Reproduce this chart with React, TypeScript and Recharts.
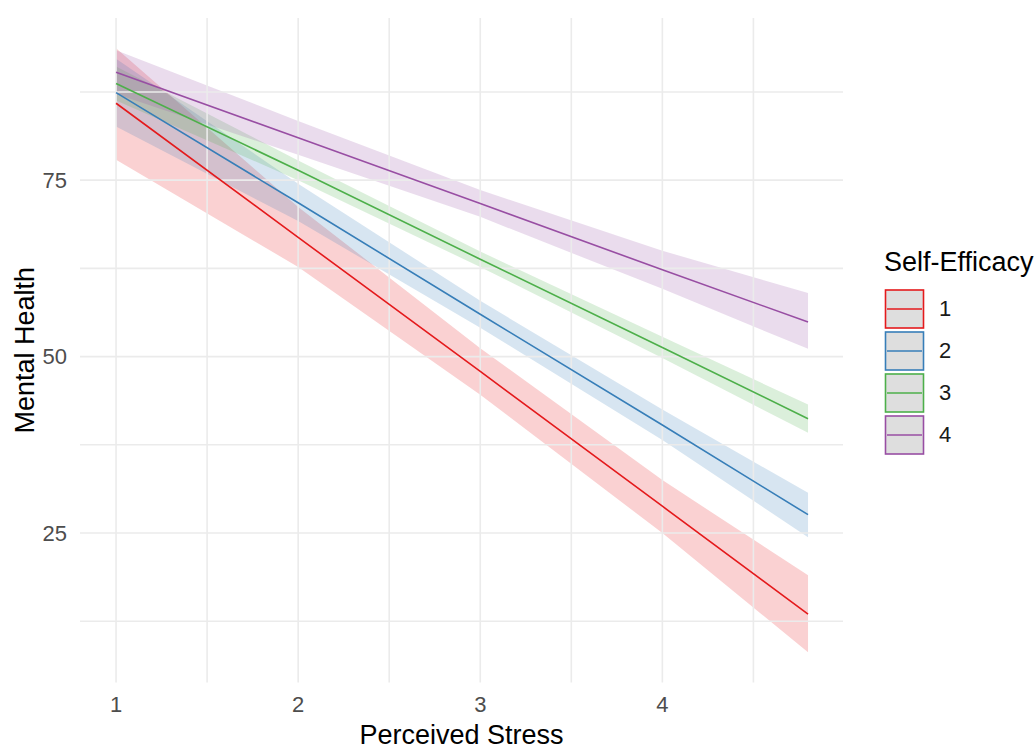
import React from 'react';
import { ComposedChart, Area, Line, XAxis, YAxis, ReferenceLine, Label } from 'recharts';

const FONT = '"Liberation Sans", Arial, sans-serif';

// Perceived Stress values where the fitted lines / bands were read
const stressValues = [1, 2, 3, 4, 4.8];

// Self-Efficacy groups
const groups = ['1', '2', '3', '4'];
const colors = ['#E41A1C', '#377EB8', '#4DAF4A', '#984EA3'];

// Fitted Mental Health
const fit1 = [85.9, 66.9, 47.9, 28.8, 13.5];
const fit2 = [87.4, 71.8, 56.0, 40.3, 27.6];
const fit3 = [88.7, 76.4, 63.8, 51.3, 41.2];
const fit4 = [90.3, 81.0, 71.7, 62.3, 54.9];

// Confidence band lower / upper
const low1 = [77.9, 62.7, 44.6, 25.0, 8.1];
const high1 = [93.7, 71.2, 51.2, 32.5, 19.0];
const low2 = [82.6, 69.2, 54.1, 38.2, 24.4];
const high2 = [92.2, 74.5, 57.9, 42.5, 30.7];
const low3 = [86.3, 75.0, 62.7, 49.8, 39.2];
const high3 = [91.1, 77.8, 64.9, 52.8, 43.2];
const low4 = [87.2, 78.6, 69.8, 59.6, 51.1];
const high4 = [93.4, 83.4, 73.6, 65.0, 59.0];

// Axis ticks (major labelled, minor unlabelled gridlines)
const xTicks = [1, 1.5, 2, 2.5, 3, 3.5, 4, 4.5];
const xLabelled = [1, 2, 3, 4];
const yTicks = [12.5, 25, 37.5, 50, 62.5, 75, 87.5];
const yLabelled = [25, 50, 75];

const fits = [fit1, fit2, fit3, fit4];
const lows = [low1, low2, low3, low4];
const highs = [high1, high2, high3, high4];

const data = stressValues.map((x, i) => {
  const row: any = { x };
  groups.forEach((g, k) => {
    row['fit' + g] = fits[k][i];
    row['band' + g] = [lows[k][i], highs[k][i]];
  });
  return row;
});

const LegendBox = () => (
  <div style={{ position: 'absolute', left: 884, top: 247, fontFamily: FONT }}>
    <div style={{ fontSize: 27, color: '#000', lineHeight: '31px', marginBottom: 10, whiteSpace: 'nowrap' }}>Self-Efficacy</div>
    {groups.map((g, k) => (
      <div key={g} style={{ display: 'flex', alignItems: 'center', height: 42 }}>
        <svg width={42} height={42} style={{ display: 'block' }}>
          <rect x={1.5} y={2} width={38} height={38} fill="#DEDEDE" stroke={colors[k]} strokeWidth={1.6} />
          <line x1={3} x2={38} y1={21} y2={21} stroke={colors[k]} strokeWidth={1.6} />
        </svg>
        <span style={{ fontSize: 22, color: '#1A1A1A', marginLeft: 13 }}>{g}</span>
      </div>
    ))}
  </div>
);

export default function App() {
  return (
    <div style={{ position: 'absolute', left: 0, top: 0, width: 1035, height: 749, background: '#fff' }}>
      <ComposedChart
        width={1035}
        height={749}
        data={data}
        margin={{ top: 18, right: 192, bottom: 0, left: 0 }}
      >
        <XAxis
          dataKey="x"
          type="number"
          domain={[0.802, 4.992]}
          ticks={xTicks}
          tickFormatter={(v: number) => (xLabelled.includes(v) ? String(v) : '')}
          axisLine={false}
          tickLine={false}
          tickSize={0}
          tickMargin={14}
          height={66.5}
          tick={{ fill: '#4D4D4D', fontSize: 22, fontFamily: FONT }}
          interval={0}
        >
          <Label
            content={(props: any) => {
              const vb = props.viewBox;
              return (
                <text
                  x={vb.x + vb.width / 2}
                  y={vb.y + vb.height - 5}
                  textAnchor="middle"
                  fontSize={27}
                  fontFamily={FONT}
                  fill="#000"
                >
                  Perceived Stress
                </text>
              );
            }}
          />
        </XAxis>
        <YAxis
          type="number"
          domain={[3.82, 97.98]}
          ticks={yTicks}
          tickFormatter={(v: number) => (yLabelled.includes(v) ? String(v) : '')}
          axisLine={false}
          tickLine={false}
          tickSize={0}
          tickMargin={13}
          width={80}
          tick={{ fill: '#4D4D4D', fontSize: 22, fontFamily: FONT }}
          interval={0}
        >
          <Label
            content={(props: any) => {
              const vb = props.viewBox;
              const cx = 34;
              const cy = vb.y + vb.height / 2;
              return (
                <text
                  x={cx}
                  y={cy}
                  transform={`rotate(-90 ${cx} ${cy})`}
                  textAnchor="middle"
                  fontSize={27}
                  fontFamily={FONT}
                  fill="#000"
                >
                  Mental Health
                </text>
              );
            }}
          />
        </YAxis>
        {xTicks.map((t) => (
          <ReferenceLine key={'vx' + t} x={t} stroke="#EBEBEB" strokeWidth={1.6} />
        ))}
        {yTicks.map((t) => (
          <ReferenceLine key={'hy' + t} y={t} stroke="#EBEBEB" strokeWidth={1.6} />
        ))}
        {groups.map((g, k) => (
          <Area
            key={'band' + g}
            dataKey={'band' + g}
            type="linear"
            stroke="none"
            fill={colors[k]}
            fillOpacity={0.2}
            isAnimationActive={false}
            activeDot={false}
            dot={false}
          />
        ))}
        {groups.map((g, k) => (
          <Line
            key={'fit' + g}
            dataKey={'fit' + g}
            type="linear"
            stroke={colors[k]}
            strokeWidth={1.6}
            dot={false}
            activeDot={false}
            isAnimationActive={false}
          />
        ))}
      </ComposedChart>
      <LegendBox />
    </div>
  );
}
